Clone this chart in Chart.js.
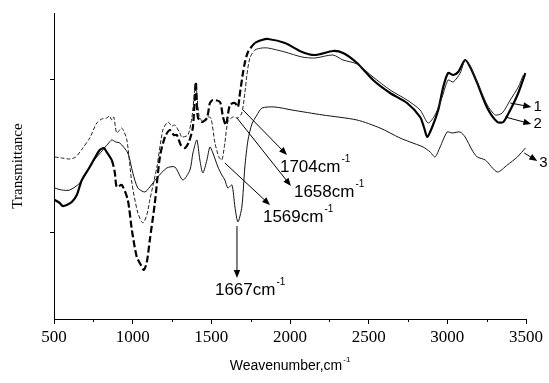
<!DOCTYPE html>
<html>
<head>
<meta charset="utf-8">
<script src="https://cdn.jsdelivr.net/npm/chart.js@4.4.0/dist/chart.umd.min.js"></script>
<style>
  html, body { margin: 0; padding: 0; background: #fff; }
</style>
</head>
<body>
<canvas id="irChart" width="549" height="383"></canvas>
<script>
// IR spectra, transmittance in arbitrary units
const curve1X = [504,549,600,638,683,727,772,804,835,854,867,880,899,931,963,995,1033,1065,1090,1109,1154,1192,1224,1249,1268,1300,1312,1351,1376,1401,1421,1446,1472,1497,1523,1548,1567,1586,1605,1637,1669,1694,1713,1726,1745,1777,1822,1860,1968,2076,2159,2273,2337,2426,2528,2636,2744,2827,2878,2922,2967,3005,3037,3082,3113,3145,3190,3254,3305,3349,3400,3451,3483];
const curve1Y = [162,161,160,162,171,181,196,200,201,203,199,202,186,191,179,136,106,96,104,119,152,189,197,193,194,186,182,184,201,234,204,197,202,201,176,162,159,176,197,202,201,206,226,244,261,269,271,271,267,262,261,264,259,255,242,229,219,209,196,204,222,239,237,246,259,253,237,214,204,206,219,232,244];

const curve2X = [504,536,555,581,613,645,677,727,759,791,817,835,867,886,899,931,969,995,1026,1052,1071,1090,1109,1141,1173,1205,1236,1262,1281,1306,1332,1357,1383,1401,1414,1440,1472,1491,1510,1555,1574,1593,1618,1650,1669,1682,1701,1714,1733,1777,1822,1860,1968,2076,2159,2273,2337,2426,2528,2636,2744,2827,2853,2872,2904,2942,2974,3005,3037,3069,3113,3145,3190,3254,3318,3356,3400,3451,3496];
const curve2Y = [119,116,113,114,117,124,139,152,161,169,171,167,159,147,132,134,119,89,62,54,49,57,79,116,162,182,189,184,184,174,171,177,192,237,202,197,201,216,219,217,202,194,214,216,212,226,246,257,267,276,279,280,276,267,264,268,266,256,239,226,216,202,191,182,192,209,232,246,244,247,259,252,236,211,197,197,209,226,246];

const curve3X = [504,549,600,664,708,746,810,842,867,893,918,969,1001,1033,1077,1109,1154,1217,1268,1319,1364,1383,1408,1427,1446,1472,1491,1510,1542,1567,1586,1605,1631,1650,1669,1694,1713,1733,1758,1790,1822,1904,2012,2209,2426,2572,2699,2763,2846,2891,2922,2954,2999,3030,3081,3113,3157,3190,3241,3318,3381,3445,3496];
const curve3Y = [131,129,129,136,147,157,169,175,179,177,176,166,146,131,127,132,141,151,152,139,149,166,179,159,146,159,172,166,152,144,139,131,134,112,97,112,152,179,195,204,211,212,209,204,199,191,181,177,172,167,162,172,187,186,187,182,169,162,159,147,154,162,171];

const curveNames = ['1', '2', '3'];
const peakNames = ['1704', '1658', '1569', '1667'];
const xTicks = [500, 1000, 1500, 2000, 2500, 3000, 3500];
const xMinorTicks = [750, 1250, 1750, 2250, 2750, 3250];
const yTicks = [87, 240];

// annotation arrows, in data units: [from x, from y, to x, to y, text x, text y]
const peakArrows = [
  [1701, 209, 1981, 164, 1936, 152],
  [1663, 201, 2006, 133, 2025, 127],
  [1586, 156, 1873, 114, 1828, 102],
  [1663, 93, 1663, 41, 1523, 29]
];
const curveArrows = [
  [3400, 216, 3534, 212, 3547, 212],
  [3368, 202, 3534, 195, 3547, 195],
  [3489, 166, 3572, 158, 3585, 156]
];

function toPoints(xs, ys) {
  return xs.map((v, i) => ({ x: v, y: ys[i] }));
}

function arrowLine(ctx, x0, y0, x1, y1) {
  const ang = Math.atan2(y1 - y0, x1 - x0);
  const len = 8, half = 3.2;
  ctx.beginPath();
  ctx.moveTo(x0, y0);
  ctx.lineTo(x1 - Math.cos(ang) * len * 0.8, y1 - Math.sin(ang) * len * 0.8);
  ctx.stroke();
  ctx.beginPath();
  ctx.moveTo(x1, y1);
  ctx.lineTo(x1 - Math.cos(ang) * len - Math.sin(ang) * half, y1 - Math.sin(ang) * len + Math.cos(ang) * half);
  ctx.lineTo(x1 - Math.cos(ang) * len + Math.sin(ang) * half, y1 - Math.sin(ang) * len - Math.cos(ang) * half);
  ctx.closePath();
  ctx.fill();
}

function supText(ctx, main, sup, px, py, size) {
  ctx.font = size + 'px "Liberation Sans", Arial, sans-serif';
  ctx.textAlign = 'left';
  ctx.textBaseline = 'middle';
  ctx.fillText(main, px, py);
  const w = ctx.measureText(main).width;
  ctx.font = Math.round(size * 0.6) + 'px "Liberation Sans", Arial, sans-serif';
  ctx.fillText(sup, px + w + 1, py - size * 0.45);
  return w;
}

const annotate = {
  id: 'annotate',
  afterDatasetsDraw(chart) {
    const { ctx, scales: { x, y } } = chart;
    ctx.save();
    ctx.strokeStyle = '#000';
    ctx.fillStyle = '#000';
    ctx.lineWidth = 1;

    // minor ticks on the x axis
    xMinorTicks.forEach(v => {
      const px = Math.round(x.getPixelForValue(v)) + 0.5;
      ctx.beginPath();
      ctx.moveTo(px, y.bottom);
      ctx.lineTo(px, y.bottom + 3);
      ctx.stroke();
    });

    peakArrows.forEach((a, i) => {
      arrowLine(ctx, x.getPixelForValue(a[0]), y.getPixelForValue(a[1]),
                x.getPixelForValue(a[2]), y.getPixelForValue(a[3]));
      supText(ctx, peakNames[i] + 'cm', '-1', x.getPixelForValue(a[4]), y.getPixelForValue(a[5]), 17);
    });

    curveArrows.forEach((a, i) => {
      arrowLine(ctx, x.getPixelForValue(a[0]), y.getPixelForValue(a[1]),
                x.getPixelForValue(a[2]), y.getPixelForValue(a[3]));
      ctx.font = '15px "Liberation Sans", Arial, sans-serif';
      ctx.textAlign = 'left';
      ctx.textBaseline = 'middle';
      ctx.fillText(curveNames[i], x.getPixelForValue(a[4]), y.getPixelForValue(a[5]));
    });

    // axis titles
    ctx.font = '14px "Liberation Sans", Arial, sans-serif';
    const titleW = ctx.measureText('Weavenumber,cm').width + 8;
    const cx = (x.left + x.right) / 2;
    supText(ctx, 'Weavenumber,cm', '-1', cx - titleW / 2, 366, 14);

    ctx.translate(18, (y.top + y.bottom) / 2);
    ctx.rotate(-Math.PI / 2);
    ctx.font = '15px "Liberation Serif", "Times New Roman", serif';
    ctx.textAlign = 'center';
    ctx.textBaseline = 'middle';
    ctx.fillText('Transmittance', 0, 0);
    ctx.restore();
  }
};

const ctx = document.getElementById('irChart').getContext('2d');
new Chart(ctx, {
  type: 'line',
  data: {
    datasets: [
      {
        label: curveNames[0],
        data: toPoints(curve1X, curve1Y),
        borderColor: '#222',
        borderWidth: 1,
        segment: { borderDash: c => c.p0.parsed.x < 1750 ? [4, 2] : undefined }
      },
      {
        label: curveNames[1],
        data: toPoints(curve2X, curve2Y),
        borderColor: '#000',
        borderWidth: 2.2,
        segment: { borderDash: c => (c.p0.parsed.x >= 850 && c.p0.parsed.x < 1750) ? [7, 3] : undefined }
      },
      {
        label: curveNames[2],
        data: toPoints(curve3X, curve3Y),
        borderColor: '#111',
        borderWidth: 1
      }
    ]
  },
  options: {
    responsive: false,
    animation: false,
    parsing: false,
    layout: { padding: { top: 13, right: 23, left: 0, bottom: 0 } },
    elements: {
      point: { radius: 0 },
      line: { tension: 0.25, fill: false }
    },
    plugins: {
      legend: { display: false },
      tooltip: { enabled: false }
    },
    scales: {
      x: {
        type: 'linear',
        min: 500,
        max: 3500,
        afterFit: s => { s.height = 64; },
        afterBuildTicks: s => { s.ticks = xTicks.map(v => ({ value: v })); },
        border: { display: true, color: '#000', width: 1 },
        grid: { display: true, drawOnChartArea: false, drawTicks: true, tickLength: 5, color: '#000' },
        ticks: {
          color: '#000',
          padding: 3,
          maxRotation: 0,
          autoSkip: false,
          callback: v => String(v),
          font: { family: '"Liberation Serif", "Times New Roman", serif', size: 17 }
        }
      },
      y: {
        type: 'linear',
        min: 0,
        max: 306,
        afterFit: s => { s.width = 54; },
        afterBuildTicks: s => { s.ticks = yTicks.map(v => ({ value: v })); },
        border: { display: true, color: '#000', width: 1 },
        grid: { display: true, drawOnChartArea: false, drawTicks: true, tickLength: 4, color: '#000' },
        ticks: { callback: () => '', padding: 0 }
      }
    }
  },
  plugins: [annotate]
});
</script>
</body>
</html>
